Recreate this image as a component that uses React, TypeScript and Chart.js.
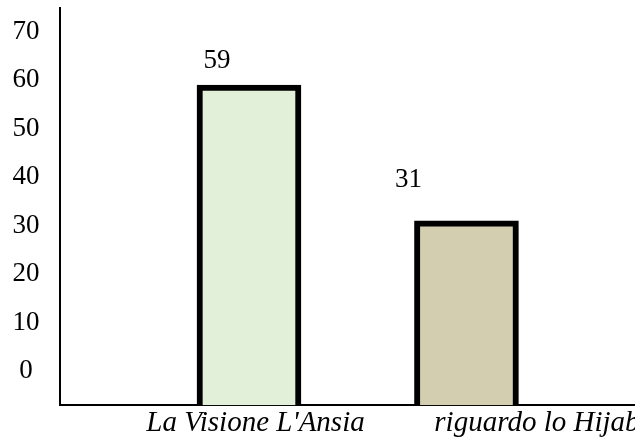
import React, { useEffect, useRef } from "react";
import { Chart, registerables } from "chart.js";

Chart.register(...registerables);

const categories = ["La Visione L'Ansia", "riguardo lo Hijab"];
const values = [59, 31];
const yTickValues = [0, 10, 20, 30, 40, 50, 60, 70];
const barColors = ["#E2EFD9", "#D3CEB0"];

const Y_MIN = -7;
const Y_MAX = 75;
const X_MIN = -0.869;
const X_MAX = 1.775;
const LABEL_SHIFT = [0.03, 0.324];
const VALUE_LABEL_OFFSETS = [
  { dx: -32, dy: -24 },
  { dx: -58, dy: -41 },
];
const FONT = "'Liberation Serif', 'Times New Roman', serif";

export default function App() {
  const ref = useRef<HTMLCanvasElement>(null);

  useEffect(() => {
    const canvas = ref.current;
    if (!canvas) return;

    const valueLabels = {
      id: "valueLabels",
      afterDatasetsDraw(chart: any) {
        const ctx = chart.ctx;
        const xs = chart.scales.x;
        const ys = chart.scales.y;
        ctx.save();
        ctx.font = `27px ${FONT}`;
        ctx.fillStyle = "#000";
        ctx.textAlign = "center";
        ctx.textBaseline = "middle";
        values.forEach((v, i) => {
          const o = VALUE_LABEL_OFFSETS[i];
          ctx.fillText(String(v), xs.getPixelForValue(i) + o.dx, ys.getPixelForValue(v) + o.dy);
        });
        ctx.restore();
      },
    };

    const chart = new Chart(canvas, {
      type: "bar",
      data: {
        datasets: [
          {
            data: values.map((v, i) => ({ x: i, y: v })),
            backgroundColor: barColors,
            borderColor: "#000",
            borderWidth: 6,
            base: Y_MIN,
            barThickness: 104,
          } as any,
        ],
      },
      options: {
        animation: false,
        responsive: false,
        layout: { padding: { left: 0, top: 7.5, right: 0, bottom: 0 } },
        plugins: {
          legend: { display: false },
          tooltip: { enabled: false },
        },
        scales: {
          x: {
            type: "linear",
            min: X_MIN,
            max: X_MAX,
            offset: false,
            grid: { display: false, drawTicks: false, offset: false },
            border: { display: true, color: "#000", width: 2 },
            afterBuildTicks: (s: any) => {
              s.ticks = categories.map((_, i) => ({ value: i + LABEL_SHIFT[i] }));
            },
            afterFit: (s: any) => {
              s.paddingRight = 0;
              s.paddingLeft = 0;
            },
            ticks: {
              callback: (_v: any, i: number) => categories[i],
              color: "#000",
              font: { family: FONT, size: 29, style: "italic" },
              padding: 0.5,
              maxRotation: 0,
              minRotation: 0,
              autoSkip: false,
            },
          },
          y: {
            type: "linear",
            min: Y_MIN,
            max: Y_MAX,
            offset: false,
            grid: { display: false, drawTicks: false },
            border: { display: true, color: "#000", width: 2 },
            afterBuildTicks: (s: any) => {
              s.ticks = yTickValues.map((v) => ({ value: v }));
            },
            afterFit: (s: any) => {
              s.width = 60;
              s.paddingTop = 0;
              s.paddingBottom = 0;
            },
            ticks: {
              color: "#000",
              font: { family: FONT, size: 27 },
              padding: 20.5,
              crossAlign: "center",
            },
          },
        },
      } as any,
      plugins: [valueLabels],
    });

    return () => chart.destroy();
  }, []);

  return (
    <div style={{ position: "absolute", left: 0, top: 0, width: 635, height: 441, background: "#fff" }}>
      <canvas ref={ref} width={635} height={441} style={{ display: "block" }} />
    </div>
  );
}
